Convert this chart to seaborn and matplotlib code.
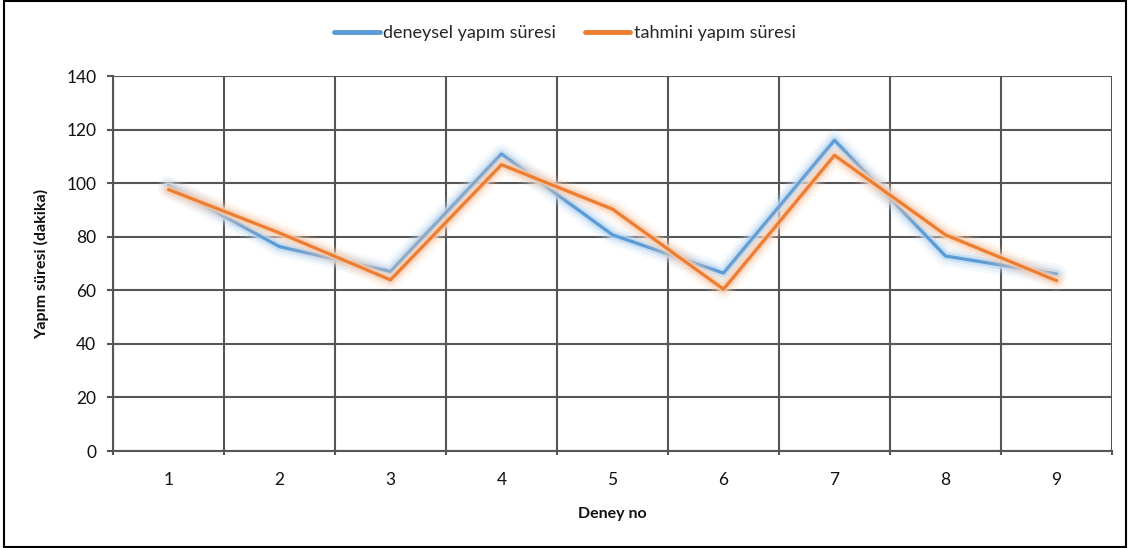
import numpy as np
import pandas as pd
import matplotlib
matplotlib.use("Agg")
import matplotlib.pyplot as plt
import matplotlib.patheffects as pe
from matplotlib.patches import Rectangle
import seaborn as sns

# Data
deney_no = [1, 2, 3, 4, 5, 6, 7, 8, 9]
deneysel = [99.1, 76.3, 67.0, 110.9, 80.7, 66.4, 116.0, 72.8, 66.1]
tahmini = [97.6, 81.4, 63.9, 106.9, 90.3, 60.4, 110.4, 80.7, 63.6]
series_names = ["deneysel yapım süresi", "tahmini yapım süresi"]
y_ticks = [0, 20, 40, 60, 80, 100, 120, 140]

df = pd.DataFrame({
    "Deney no": deney_no * 2,
    "Yapım süresi (dakika)": deneysel + tahmini,
    "Seri": [series_names[0]] * len(deney_no) + [series_names[1]] * len(deney_no),
})

sns.set_theme(style="white")
plt.rcParams["font.family"] = ["Lato", "DejaVu Sans"]

fig = plt.figure(figsize=(11.30, 5.48), dpi=100)
ax = fig.add_axes([113 / 1130, 1 - 451 / 548, (1112 - 113) / 1130, (451 - 76) / 548])

line_colors = ["#5B9BD5", "#ED7D31"]
glow_colors = ["#bcd8f2", "#f8cfb3"]
palette = dict(zip(series_names, line_colors))

sns.lineplot(data=df, x="Deney no", y="Yapım süresi (dakika)", hue="Seri",
             hue_order=series_names, palette=palette, linewidth=2.3, ax=ax,
             legend=True, zorder=3)

# Soft glow around each series line
for line, g in zip(ax.get_lines()[:2], glow_colors):
    line.set_path_effects([
        pe.Stroke(linewidth=15, foreground=g, alpha=0.12),
        pe.Stroke(linewidth=11, foreground=g, alpha=0.22),
        pe.Stroke(linewidth=7, foreground=g, alpha=0.45),
        pe.Stroke(linewidth=4.5, foreground=g, alpha=0.7),
        pe.Normal(),
    ])

ax.set_xlim(0.5, 9.5)
ax.set_ylim(0, 140)
ax.set_xticks(deney_no)
ax.set_xticks(np.arange(0.5, 10, 1), minor=True)
ax.set_yticks(y_ticks)

grid_c = "#555555"
ax.grid(False)
ax.grid(which="minor", axis="x", color=grid_c, linewidth=1.5, zorder=1)
ax.grid(which="major", axis="y", color=grid_c, linewidth=1.5, zorder=1)
ax.set_axisbelow(True)

for s in ["top", "right"]:
    ax.spines[s].set_visible(False)
for s in ["left", "bottom"]:
    ax.spines[s].set_color(grid_c)
    ax.spines[s].set_linewidth(1.5)

ax.tick_params(axis="x", which="major", length=0, pad=15, labelsize=12.5, labelcolor="#111111")
ax.tick_params(axis="x", which="minor", length=3, width=1.5, color=grid_c, bottom=True)
ax.tick_params(axis="y", which="major", length=4, width=1.5, color=grid_c, left=True,
               pad=8, labelsize=12.5, labelcolor="#111111")

ax.set_xlabel("Deney no", fontsize=11.5, fontweight="bold", labelpad=14, color="#111111")
ax.set_ylabel("Yapım süresi (dakika)", fontsize=11.5, fontweight="bold", labelpad=12, color="#111111")

handles, labels = ax.get_legend_handles_labels()
for h in handles:
    h.set_linewidth(3.5)
    h.set_path_effects([])
ax.legend(handles, labels, loc="center", bbox_to_anchor=(0.5, 1 - 33 / 548),
          bbox_transform=fig.transFigure, ncol=2, frameon=False, fontsize=13,
          handlelength=2.5, handletextpad=0.2, columnspacing=1.6)

# Outer frame
fig.patches.append(Rectangle((4 / 1130, 1 / 548), 1122 / 1130, 546 / 548,
                             transform=fig.transFigure, fill=False,
                             edgecolor="black", linewidth=1.5))

fig.savefig("out.png", dpi=100)
